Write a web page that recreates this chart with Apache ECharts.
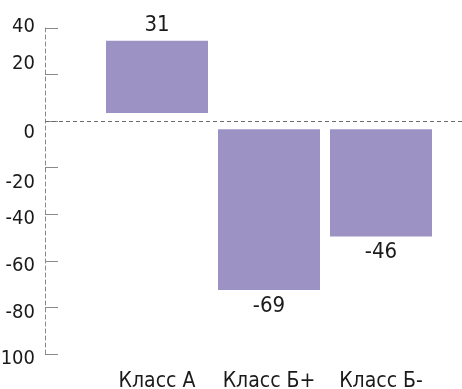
<!DOCTYPE html>
<html>
<head>
<meta charset="utf-8">
<script src="https://cdn.jsdelivr.net/npm/echarts@6/dist/echarts.min.js"></script>
<style>
  html, body { margin: 0; padding: 0; background: #fff; }
  #chart { width: 462px; height: 389px; }
</style>
</head>
<body>
<div id="chart"></div>
<script>
// Class results
const categories = ['Класс А', 'Класс Б+', 'Класс Б-'];
const values = [31, -69, -46];
const yTicks = [40, 20, 0, -20, -40, -60, -80, -100];

const FONT = '"Liberation Sans Narrow", "DejaVu Sans Condensed", sans-serif';
const TEXT = '#1a1a1a';
const BAR_COLOR = '#9d92c4';
// bars float slightly off the zero line
const BASE_GAP = 3.5;

const yMin = yTicks[yTicks.length - 1];
const yMax = yTicks[0];

// per-tick vertical nudges of the y labels
const labelShift = { '40': 'n', '20': 'u', '0': 'd1', '-20': 'd2' };
const richStyle = pad => ({ fontFamily: FONT, fontSize: 20, color: TEXT, padding: pad });

const chart = echarts.init(document.getElementById('chart'));

chart.setOption({
  animation: false,
  grid: [
    // frame for the y axis and the zero line
    { left: 45, right: 0, top: 28, bottom: 35, outerBoundsMode: 'none', containLabel: false },
    // frame for the bars
    { left: 101, right: 25, top: 28, bottom: 35, outerBoundsMode: 'none', containLabel: false }
  ],
  xAxis: [
    { gridIndex: 0, type: 'value', min: 0, max: 1, show: false },
    {
      gridIndex: 1,
      type: 'category',
      data: categories,
      axisLine: { show: false },
      axisTick: { show: false },
      axisLabel: { interval: 0, margin: 17, fontFamily: FONT, fontSize: 21, color: TEXT }
    }
  ],
  yAxis: [
    {
      gridIndex: 0,
      type: 'value',
      min: yMin,
      max: yMax,
      interval: 20,
      axisLine: { show: true, lineStyle: { color: '#8a8a8a', type: [4, 3], width: 1 } },
      axisTick: { show: true, inside: true, length: 13, lineStyle: { color: '#8a8a8a', width: 1 } },
      splitLine: { show: false },
      axisLabel: {
        margin: 10,
        fontFamily: FONT,
        fontSize: 20,
        color: TEXT,
        formatter: v => '{' + (labelShift[String(v)] || 'd') + '|' + v + '}',
        rich: {
          n: richStyle([0, 0, 3, 0]),
          u: richStyle([0, 0, 21, 0]),
          d1: richStyle([23, 0, 0, 0]),
          d2: richStyle([31, 0, 0, 0]),
          d: richStyle([10, 0, 0, 0])
        }
      }
    },
    { gridIndex: 1, type: 'value', min: yMin, max: yMax, interval: 20, show: false }
  ],
  series: [
    {
      // zero reference line across the whole plot
      type: 'line',
      xAxisIndex: 0,
      yAxisIndex: 0,
      data: [],
      silent: true,
      markLine: {
        silent: true,
        symbol: 'none',
        label: { show: false },
        lineStyle: { color: '#6a6a6a', type: [4, 3], width: 1 },
        data: [{ yAxis: 0 }]
      }
    },
    {
      // invisible spacer between the zero line and each bar
      type: 'bar',
      xAxisIndex: 1,
      yAxisIndex: 1,
      stack: 'total',
      barWidth: 102,
      silent: true,
      itemStyle: { color: 'transparent' },
      data: values.map(v => (v >= 0 ? BASE_GAP : -BASE_GAP))
    },
    {
      type: 'bar',
      xAxisIndex: 1,
      yAxisIndex: 1,
      stack: 'total',
      barWidth: 102,
      itemStyle: { color: BAR_COLOR },
      label: {
        show: true,
        position: 'outside',
        distance: 5,
        fontFamily: FONT,
        fontSize: 22,
        color: TEXT,
        formatter: p => String(p.value)
      },
      data: values
    }
  ]
});
</script>
</body>
</html>
